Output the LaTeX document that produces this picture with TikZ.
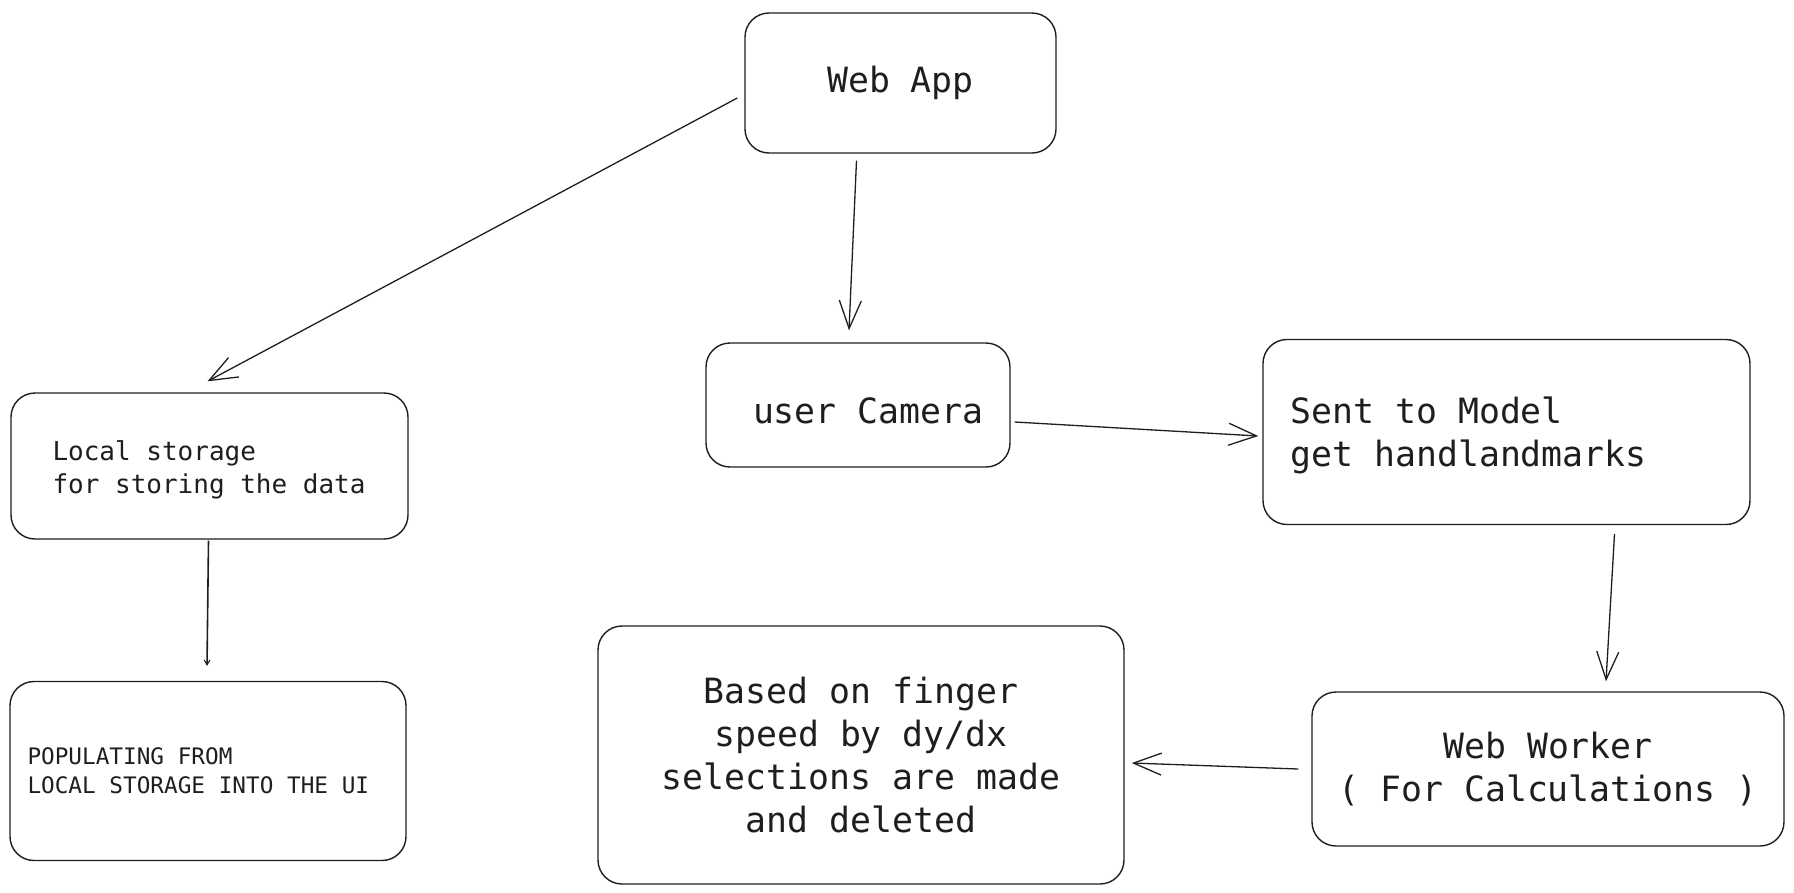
\documentclass[tikz,border=0pt]{standalone}
\usepackage{fontspec}
\setmonofont[WordSpace={1,0,0}]{DejaVu Sans Mono}
\usetikzlibrary{arrows.meta,calc}
\definecolor{ink}{HTML}{1E1E1E}
\tikzset{
  box/.style={draw=ink, line width=1.4pt, rounded corners=24pt, text=ink,
    inner ysep=0pt, font=\ttfamily\frenchspacing\fontsize{34.8}{43}\selectfont},
  conn/.style={draw=ink, line width=1.3pt,
    -{Straight Barb[length=28pt,width=22pt,line width=1.3pt]}},
}
\newcommand{\fixsp}{\spaceskip=0pt\xspaceskip=0pt\relax}
\begin{document}
\begin{tikzpicture}[x=1pt,y=-1pt]
\useasboundingbox (0,0) rectangle (1794,892);

\node[box, minimum width=311pt, minimum height=140pt, align=center] (webapp) at (900.5,83) {Web App};

\node[box, minimum height=124pt, text width=210pt, inner xsep=47pt, align=left] (camera) at (858,405) {\fixsp\mbox{\rule{0pt}{38pt}user Camera}};

\node[box, minimum height=185pt, text width=432pt, inner xsep=27.5pt, align=left] (model) at (1506.5,432) {\fixsp\mbox{\rule{0pt}{33pt}Sent to Model}\\\mbox{get handlandmarks}};

\node[box, minimum height=146pt, text width=314pt, inner xsep=41.5pt, align=left,
  font=\ttfamily\frenchspacing\fontsize{26}{33}\selectfont] (local) at (209.5,466) {\fixsp\mbox{\rule{0pt}{27pt}Local storage}\\\mbox{for storing the data}};

\node[box, minimum height=179pt, text width=361pt, inner xsep=17.5pt, align=left,
  font=\ttfamily\frenchspacing\fontsize{22.7}{28.6}\selectfont] (populate) at (208,771) {\fixsp\mbox{POPULATING FROM}\\\mbox{LOCAL STORAGE INTO THE UI}};

\node[box, minimum width=526pt, minimum height=258pt, align=center] (finger) at (861,755) {Based on finger\\ speed by dy/dx\\selections are made\\and deleted};

\node[box, minimum width=472pt, minimum height=154pt, align=center] (worker) at (1548,769) {Web Worker\\( For Calculations )};

\draw[conn] ($(webapp.west)+(-7,15)$) -- ($(local.north)+(-2,-11)$);
\draw[conn] ($(webapp.south)+(-44,7)$) -- ($(camera.north)+(-9,-12)$);
\draw[draw=ink, line width=1.6pt, -{Straight Barb[length=5pt,width=6pt,line width=1pt]}] ($(local.south)+(-1,1)$) -- ($(populate.north)+(-1,-15)$);
\draw[conn] ($(camera.east)+(4,17)$) -- ($(model.west)+(-4,4)$);
\draw[conn] ($(model.south)+(108,9)$) -- ($(worker.north)+(58,-10)$);
\draw[conn] ($(worker.west)+(-13,0)$) -- ($(finger.east)+(7,8)$);
\end{tikzpicture}
\end{document}
